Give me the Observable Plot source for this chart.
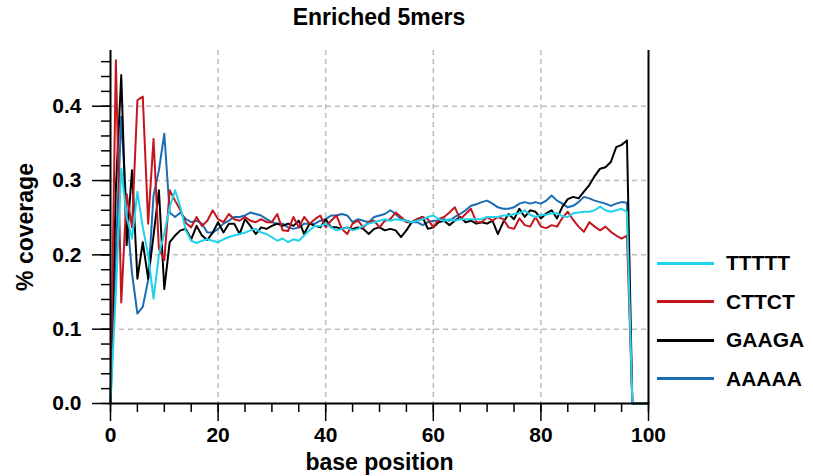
<!DOCTYPE html>
<html>
<head>
<meta charset="utf-8">
<script src="https://cdn.jsdelivr.net/npm/d3@7"></script>
<script src="https://cdn.jsdelivr.net/npm/@observablehq/plot@0.6"></script>
<style>
  body { margin: 0; background: #fff; font-family: "Liberation Sans", Arial, sans-serif; }
  #wrap { position: relative; width: 813px; height: 476px; }
  #title { position: absolute; left: 0; top: 4px; width: 758px; text-align: center; font-weight: bold; font-size: 23px; }
  #legend { position: absolute; left: 657px; top: 244px; }
  .row { display: flex; align-items: center; height: 38.5px; }
  .sw { width: 57px; height: 3px; margin-right: 12px; }
  .lb { font-weight: bold; font-size: 21px; }
</style>
</head>
<body>
<div id="wrap">
  <div id="title">Enriched 5mers</div>
  <div id="chart"></div>
  <div id="legend"></div>
</div>
<script>
// Series (legend order) and colours
const seriesNames = ["TTTTT", "CTTCT", "GAAGA", "AAAAA"];
const seriesColors = ["#1fd3ea", "#c3161d", "#000000", "#1b6db3"];
const drawOrder = ["AAAAA", "GAAGA", "CTTCT", "TTTTT"];

// base positions 0..96, then the drop to zero at 97 and the flat end at 100
const positions = d3.range(0, 97).concat([97, 100]);

const ttttt = [0, 0.15, 0.316, 0.251, 0.222, 0.285, 0.237, 0.20, 0.141, 0.20,
  0.229, 0.264, 0.287, 0.264, 0.233, 0.219, 0.216, 0.219, 0.221, 0.219,
  0.217, 0.221, 0.224, 0.226, 0.228, 0.230, 0.233, 0.235, 0.230, 0.228,
  0.224, 0.219, 0.222, 0.217, 0.221, 0.219, 0.226, 0.233, 0.239, 0.239,
  0.242, 0.237, 0.233, 0.235, 0.237, 0.233, 0.235, 0.239, 0.242, 0.244,
  0.246, 0.248, 0.246, 0.248, 0.247, 0.246, 0.244, 0.246, 0.248, 0.251,
  0.253, 0.248, 0.246, 0.248, 0.246, 0.248, 0.248, 0.248, 0.248, 0.248,
  0.251, 0.251, 0.251, 0.253, 0.253, 0.255, 0.256, 0.260, 0.254, 0.251,
  0.254, 0.254, 0.256, 0.256, 0.252, 0.251, 0.256, 0.257, 0.258, 0.258,
  0.260, 0.265, 0.260, 0.258, 0.260, 0.262, 0.258, 0, 0];

const cttct = [0, 0.462, 0.136, 0.282, 0.237, 0.408, 0.413, 0.242, 0.356, 0.208,
  0.193, 0.287, 0.273, 0.260, 0.243, 0.237, 0.251, 0.239, 0.246, 0.260,
  0.248, 0.244, 0.255, 0.248, 0.246, 0.251, 0.246, 0.244, 0.248, 0.244,
  0.244, 0.255, 0.233, 0.232, 0.251, 0.237, 0.251, 0.242, 0.248, 0.253,
  0.237, 0.246, 0.253, 0.235, 0.228, 0.242, 0.246, 0.237, 0.244, 0.246,
  0.237, 0.246, 0.248, 0.257, 0.251, 0.244, 0.244, 0.248, 0.251, 0.248,
  0.237, 0.248, 0.251, 0.257, 0.264, 0.248, 0.255, 0.262, 0.244, 0.244,
  0.251, 0.246, 0.251, 0.248, 0.237, 0.235, 0.249, 0.240, 0.238, 0.251,
  0.238, 0.236, 0.240, 0.238, 0.250, 0.258, 0.247, 0.238, 0.231, 0.244,
  0.238, 0.233, 0.238, 0.231, 0.226, 0.222, 0.226, 0, 0];

const gaaga = [0, 0.290, 0.442, 0.213, 0.314, 0.168, 0.217, 0.168, 0.226, 0.287,
  0.154, 0.217, 0.226, 0.233, 0.235, 0.221, 0.239, 0.226, 0.220, 0.230,
  0.244, 0.230, 0.242, 0.242, 0.228, 0.248, 0.239, 0.228, 0.237, 0.235,
  0.239, 0.242, 0.239, 0.242, 0.239, 0.246, 0.228, 0.242, 0.239, 0.237,
  0.248, 0.237, 0.237, 0.235, 0.237, 0.235, 0.237, 0.235, 0.228, 0.235,
  0.237, 0.233, 0.235, 0.233, 0.224, 0.233, 0.244, 0.248, 0.251, 0.235,
  0.237, 0.244, 0.246, 0.240, 0.246, 0.251, 0.244, 0.246, 0.242, 0.244,
  0.242, 0.246, 0.228, 0.244, 0.255, 0.248, 0.262, 0.251, 0.260, 0.258,
  0.249, 0.256, 0.260, 0.249, 0.265, 0.275, 0.278, 0.276, 0.285, 0.294,
  0.306, 0.316, 0.318, 0.325, 0.345, 0.348, 0.354, 0, 0];

const aaaaa = [0, 0.200, 0.386, 0.260, 0.175, 0.121, 0.130, 0.166, 0.280, 0.314,
  0.363, 0.257, 0.251, 0.257, 0.248, 0.244, 0.246, 0.242, 0.230, 0.230,
  0.235, 0.242, 0.246, 0.251, 0.251, 0.253, 0.257, 0.255, 0.253, 0.248,
  0.244, 0.242, 0.242, 0.237, 0.235, 0.237, 0.242, 0.242, 0.242, 0.246,
  0.248, 0.253, 0.253, 0.255, 0.253, 0.244, 0.248, 0.246, 0.244, 0.251,
  0.253, 0.255, 0.260, 0.255, 0.248, 0.246, 0.244, 0.244, 0.240, 0.244,
  0.246, 0.246, 0.248, 0.246, 0.251, 0.255, 0.260, 0.266, 0.268, 0.271,
  0.273, 0.269, 0.264, 0.262, 0.262, 0.264, 0.269, 0.271, 0.269, 0.271,
  0.269, 0.273, 0.280, 0.273, 0.269, 0.264, 0.266, 0.271, 0.278, 0.276,
  0.273, 0.271, 0.269, 0.266, 0.269, 0.271, 0.270, 0, 0];

// Axis ticks
const xMajorTicks = [0, 20, 40, 60, 80, 100];
const xMinorTicks = [0, 5, 10, 15, 20, 25, 30, 35, 40, 45, 50, 55, 60, 65, 70, 75, 80, 85, 90, 95, 100];
const yMajorTicks = [0, 0.1, 0.2, 0.3, 0.4];
const yMinorTicks = [0, 0.02, 0.04, 0.06, 0.08, 0.1, 0.12, 0.14, 0.16, 0.18, 0.2, 0.22, 0.24, 0.26, 0.28, 0.3, 0.32, 0.34, 0.36, 0.38, 0.4, 0.42, 0.44, 0.46];
const xGrid = [20, 40, 60, 80];
const yGrid = [0.1, 0.2, 0.3, 0.4];

const bySeries = { TTTTT: ttttt, CTTCT: cttct, GAAGA: gaaga, AAAAA: aaaaa };
const rows = drawOrder.flatMap(s => positions.map((p, i) => ({ pos: p, value: bySeries[s][i], series: s })));

const font = '"Liberation Sans", Arial, sans-serif';
const gridStyle = { stroke: "#bdbdbd", strokeOpacity: 1, strokeWidth: 1.5, strokeDasharray: "5,4" };

const chart = Plot.plot({
  width: 813,
  height: 476,
  marginTop: 50,
  marginBottom: 73,
  marginLeft: 110,
  marginRight: 165,
  style: { fontFamily: font, fontSize: "21px", fontWeight: "bold", background: "white", color: "black", overflow: "visible" },
  x: { domain: [0, 100] },
  y: { domain: [0, 0.475] },
  color: { domain: seriesNames, range: seriesColors },
  marks: [
    Plot.gridX({ ticks: xGrid, ...gridStyle }),
    Plot.gridY({ ticks: yGrid, ...gridStyle }),
    Plot.line(rows, { x: "pos", y: "value", z: "series", stroke: "series", strokeWidth: 2 }),
    Plot.ruleX([0, 100], { stroke: "black", strokeWidth: 2 }),
    Plot.ruleY([0], { stroke: "black", strokeWidth: 2 }),
    Plot.axisX({ ticks: xMinorTicks, tickSize: 9, text: null, label: null, strokeWidth: 1.5 }),
    Plot.axisX({ ticks: xMajorTicks, tickSize: 18, tickPadding: 6, strokeWidth: 1.5, fontSize: 21, fontWeight: "bold", label: null }),
    Plot.axisY({ ticks: yMinorTicks, tickSize: 9, text: null, label: null, strokeWidth: 1.5 }),
    Plot.axisY({ ticks: yMajorTicks, tickSize: 18, tickPadding: 11, strokeWidth: 1.5, tickFormat: d3.format(".1f"),
      fontSize: 21, fontWeight: "bold", label: null }),
    Plot.axisX({ ticks: [], label: "base position", labelAnchor: "center", labelOffset: 66, labelArrow: "none",
      fontSize: 23, fontWeight: "bold" }),
    Plot.axisY({ ticks: [], label: "% coverage", labelAnchor: "center", labelOffset: 94, labelArrow: "none",
      fontSize: 23, fontWeight: "bold" })
  ]
});
document.getElementById("chart").appendChild(chart);

// Legend
const legend = document.getElementById("legend");
seriesNames.forEach((name, i) => {
  const row = document.createElement("div");
  row.className = "row";
  const sw = document.createElement("div");
  sw.className = "sw";
  sw.style.background = seriesColors[i];
  const lb = document.createElement("span");
  lb.className = "lb";
  lb.textContent = name;
  row.appendChild(sw);
  row.appendChild(lb);
  legend.appendChild(row);
});
</script>
</body>
</html>
